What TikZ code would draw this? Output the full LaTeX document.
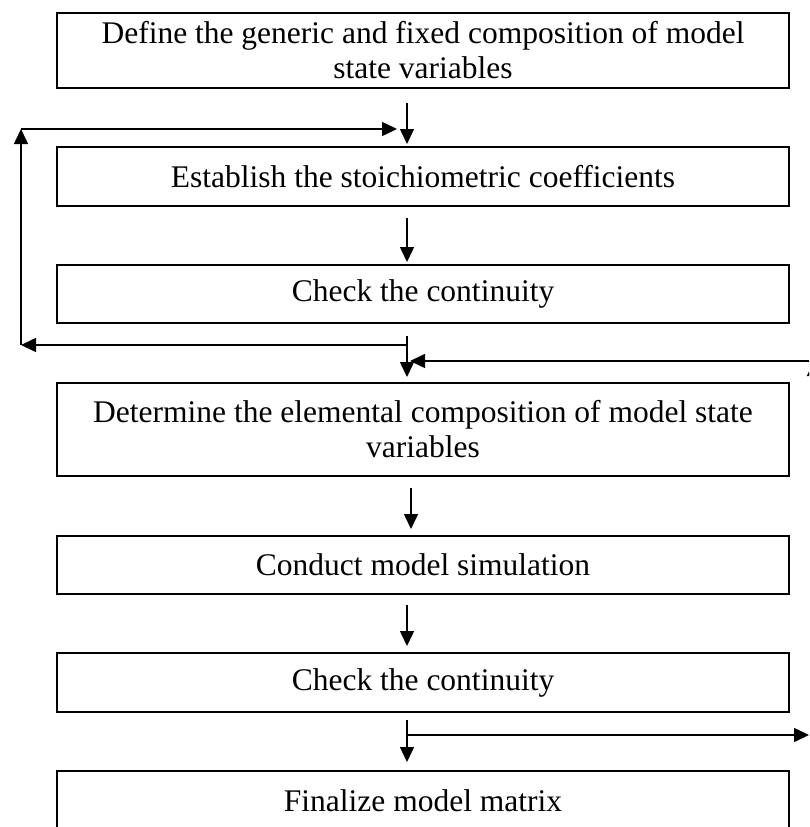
\documentclass[tikz,border=0pt]{standalone}
\usepackage{fontspec}
\setmainfont{Liberation Serif}
\usetikzlibrary{arrows.meta}
\begin{document}
\begin{tikzpicture}[x=1pt,y=-1pt,
  stepbox/.style={draw,line width=2pt,minimum width=732pt,align=center,
    inner sep=0pt,font=\fontsize{31.5}{35}\selectfont},
  arr/.style={line width=1.5pt,-{Triangle[length=15pt,width=14pt]}}]
\useasboundingbox (0,0) rectangle (809,827);
\clip (0,0) rectangle (809,827);

% process steps
\node[stepbox,minimum height=75pt] (b1) at (423,50.5)
  {Define the generic and fixed composition of model\\state variables};
\node[stepbox,minimum height=59pt] (b2) at (423,176.5)
  {Establish the stoichiometric coefficients};
\node[stepbox,minimum height=58pt] (b3) at (423,294)
  {Check the continuity};
\node[stepbox,minimum height=93pt] (b4) at (423,429.5)
  {Determine the elemental composition of model state\\variables};
\node[stepbox,minimum height=58pt] (b5) at (423,565)
  {Conduct model simulation};
\node[stepbox,minimum height=59pt] (b6) at (423,682.5)
  {Check the continuity};
\node[stepbox,minimum height=60pt] (b7) at (423,801)
  {Finalize model matrix};

% main flow
\draw[arr] ([xshift=-16pt,yshift=-14pt]b1.south) -- ([xshift=-16pt,yshift=2pt]b2.north);
\draw[arr] ([xshift=-16pt,yshift=-11pt]b2.south) -- ([xshift=-16pt,yshift=2pt]b3.north);
\draw[arr] ([xshift=-16pt,yshift=-12pt]b3.south) -- ([xshift=-16pt,yshift=5pt]b4.north);
\draw[arr] ([xshift=-12pt,yshift=-11pt]b4.south) -- ([xshift=-12pt,yshift=6pt]b5.north);
\draw[arr] ([xshift=-16pt,yshift=-10pt]b5.south) -- ([xshift=-16pt,yshift=6pt]b6.north);
\draw[arr] ([xshift=-16pt,yshift=-7pt]b6.south) -- ([xshift=-16pt,yshift=8pt]b7.north);

% feedback loop back to the stoichiometric step
\coordinate (j1) at (407,345);
\coordinate (fbL) at (21,345);
\coordinate (fbT) at (21,129);
\coordinate (e1) at (397,129);
\draw[arr] (j1) -- (fbL);
\draw[arr] (fbL) -- (fbT);
\draw[arr] (fbT) -- (e1);

% loop from the second continuity check
\coordinate (j2) at (407,735);
\coordinate (r1) at (818,735);
\coordinate (r2) at (814,735);
\coordinate (r3) at (814,361);
\coordinate (r4) at (830,361);
\coordinate (e2) at (410,361);
\draw[arr] (j2) -- (809,735);
\draw[arr] (r2) -- (r3);
\draw[arr] (r4) -- (e2);
\end{tikzpicture}
\end{document}
